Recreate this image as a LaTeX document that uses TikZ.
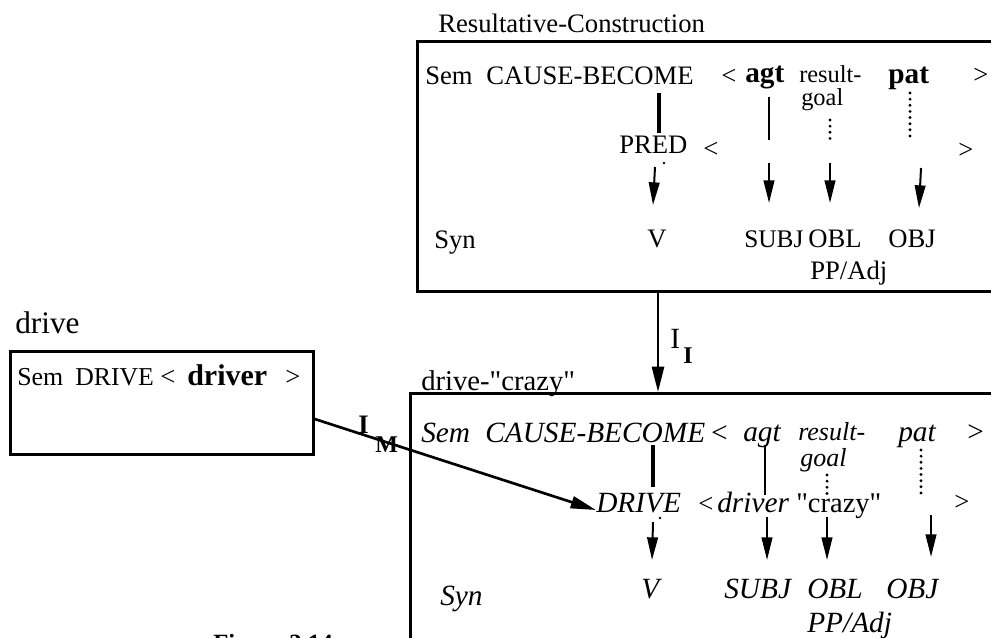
\documentclass[tikz,border=0pt]{standalone}
\usepackage{fontspec}
\setmainfont{Liberation Serif}[Ligatures=TeXOff]
\usetikzlibrary{arrows.meta}
\begin{document}
\begin{tikzpicture}[x=0.75pt,y=-0.75pt,
  lbl/.style={inner sep=0pt, anchor=base west},
  fr/.style={lbl, font=\fontsize{20}{20}\selectfont},
  fbold/.style={lbl, font=\fontsize{22}{22}\selectfont\bfseries},
  fsmall/.style={lbl, font=\fontsize{18.3}{18.3}\selectfont},
  fit/.style={lbl, font=\fontsize{22}{22}\selectfont\itshape},
  fitsmall/.style={lbl, font=\fontsize{19.5}{19.5}\selectfont\itshape},
  boxframe/.style={draw, line width=2pt, inner sep=0pt, anchor=north west},
  solidlink/.style={line width=3pt},
  thinlink/.style={line width=1.2pt},
  dotlink/.style={line width=2.4pt, line cap=round, dash pattern=on 0pt off 4.6pt},
  maparrow/.style={line width=1.5pt, -{Triangle[length=17pt,width=8pt]}},
  inharrow/.style={line width=2pt, -{Triangle[length=19pt,width=9pt]}},
]
\useasboundingbox (0,0) rectangle (991,637);
\clip (0,0) rectangle (991,637);

% ---------- boxes ----------
\node[boxframe, minimum width=441.75pt, minimum height=187.5pt] (rbox) at (416,40) {};
\node[boxframe, minimum width=447pt, minimum height=231pt] (cbox) at (409,392) {};
\node[boxframe, minimum width=227.25pt, minimum height=77.25pt] (dbox) at (9,350) {};

% ---------- Resultative-Construction ----------
\node[fr] (rtitle) at (438,32) {Resultative-Construction};
\node[fr] (rsem) at (425,84) {Sem};
\node[fr] (rcause) at (486,84) {CAUSE-BECOME};
\node[fr] (rlt) at (721,84) {<};
\node[fbold] (ragt) at (745,82) {agt};
\node[fsmall] (rres) at (799,82) {result-};
\node[fsmall] (rgoal) at (801,105) {goal};
\node[fbold] (rpat) at (888,83) {pat};
\node[fr] (rgt) at (973,83) {>};
\node[fr] (rpred) at (619,153) {PRED};
\node[fr] (rlt2) at (703,157) {<};
\node[fr] (rgt2) at (958,158) {>};
\node[fr] (rsyn) at (434,248) {Syn};
\node[fr] (rv) at (647,247) {V};
\node[lbl, font=\fontsize{19}{19}\selectfont] (rsubj) at (744,247) {SUBJ};
\node[fr] (robl) at (808,247) {OBL};
\node[fr] (robj) at (888,247) {OBJ};
\node[fr] (rpp) at (810,279) {PP/Adj};

\coordinate (ra1) at (659,93);  \coordinate (ra2) at (659,133);
\coordinate (rb1) at (769,97);  \coordinate (rb2) at (769,140);
\coordinate (rc1) at (830,120); \coordinate (rc2) at (830,140);
\coordinate (rd1) at (910,93);  \coordinate (rd2) at (910,138);
\draw[solidlink] (ra1) -- (ra2);
\draw[thinlink] (rb1) -- (rb2);
\draw[dotlink] (rc1) -- (rc2);
\draw[dotlink] (rd1) -- (rd2);
\coordinate (rp1) at (655,167); \coordinate (rp2) at (653,205);
\coordinate (rq1) at (769,163); \coordinate (rq2) at (769,203);
\coordinate (rr1) at (830,163); \coordinate (rr2) at (830,203);
\coordinate (rs1) at (921,168); \coordinate (rs2) at (919,208);
\draw[maparrow] (rp1) -- (rp2);
\draw[maparrow] (rq1) -- (rq2);
\draw[maparrow] (rr1) -- (rr2);
\draw[maparrow] (rs1) -- (rs2);
\fill (664,163) circle (1pt);

% ---------- drive-"crazy" ----------
\node[lbl, font=\fontsize{21.5}{21.5}\selectfont] (ctitle) at (421,390) {drive-"crazy"};
\node[fit] (csem) at (421,442) {Sem};
\node[fit] (ccause) at (485,442) {CAUSE-BECOME};
\node[fit] (clt) at (709,442) {<};
\node[fit] (cagt) at (743,441) {agt};
\node[fitsmall] (cres) at (798,440) {result-};
\node[fitsmall] (cgoal) at (800,466) {goal};
\node[fit] (cpat) at (898,441) {pat};
\node[lbl, font=\fontsize{22}{22}\selectfont] (cgt) at (967,441) {>};
\node[fit] (cdrive) at (596,512) {DRIVE};
\node[fr] (clt2) at (698,512) {<};
\node[fit] (cdriver) at (717,512) {driver};
\node[lbl, font=\fontsize{21.4}{21.4}\selectfont] (ccrazy) at (796,512) {"crazy"};
\node[fr] (cgt2) at (954,510) {>};
\node[fit] (csyn) at (440,605) {Syn};
\node[fit] (cv) at (641,598) {V};
\node[fit] (csubj) at (724,598) {SUBJ};
\node[fit] (cobl) at (807,598) {OBL};
\node[fit] (cobj) at (886,598) {OBJ};
\node[fit] (cpp) at (807,632) {PP/Adj};

\coordinate (ca1) at (653,445); \coordinate (ca2) at (653,487);
\coordinate (cb1) at (765,445); \coordinate (cb2) at (765,495);
\coordinate (cc1) at (827,475); \coordinate (cc2) at (827,494);
\coordinate (cd1) at (921,450); \coordinate (cd2) at (921,493);
\draw[solidlink] (ca1) -- (ca2);
\draw[thinlink] (cb1) -- (cb2);
\draw[dotlink] (cc1) -- (cc2);
\draw[dotlink] (cd1) -- (cd2);
\coordinate (cp1) at (653,522); \coordinate (cp2) at (652,560);
\coordinate (cq1) at (767,517); \coordinate (cq2) at (767,560);
\coordinate (cr1) at (827,517); \coordinate (cr2) at (827,560);
\coordinate (cs1) at (931,515); \coordinate (cs2) at (931,557);
\draw[maparrow] (cp1) -- (cp2);
\draw[maparrow] (cq1) -- (cq2);
\draw[maparrow] (cr1) -- (cr2);
\draw[maparrow] (cs1) -- (cs2);
\fill (660,518) circle (1pt);

% ---------- drive ----------
\node[lbl, font=\fontsize{23.5}{23.5}\selectfont] (dtitle) at (15,333) {drive};
\node[lbl, font=\fontsize{19.4}{19.4}\selectfont] (dsem) at (17,385) {Sem};
\node[lbl, font=\fontsize{19.3}{19.3}\selectfont] (ddrive) at (75,385) {DRIVE};
\node[fr] (dlt) at (160,385) {<};
\node[lbl, font=\fontsize{22.5}{22.5}\selectfont\bfseries] (ddriver) at (187,385) {driver};
\node[fr] (dgt) at (285,385) {>};

% ---------- inheritance links ----------
\coordinate (iix) at (658,0);
\draw[inharrow] (rbox.south -| iix) -- (cbox.north -| iix);
\node[lbl, font=\fontsize{22}{22}\selectfont] (iI) at (670,348) {I};
\node[lbl, font=\fontsize{18}{18}\selectfont\bfseries] (iIsub) at (683,363) {I};

\coordinate (imy) at (0,419);
\coordinate (drivetip) at (596,510);
\draw[inharrow] (dbox.east |- imy) -- (drivetip);
\node[lbl, font=\fontsize{20}{20}\selectfont\bfseries] (iM) at (358,433) {I};
\node[lbl, font=\fontsize{18}{18}\selectfont\bfseries] (iMsub) at (375,452) {M};

% ---------- caption ----------
\node[lbl, font=\fontsize{18.6}{18.6}\selectfont\bfseries] (fig) at (213,651) {Figure 3.14};
\end{tikzpicture}
\end{document}
